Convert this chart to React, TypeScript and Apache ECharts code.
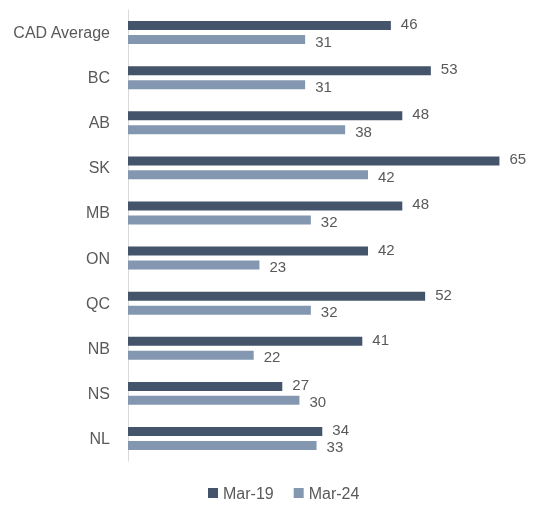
import React, { useEffect, useRef } from "react";
import * as echarts from "echarts";

const categories = ["CAD Average", "BC", "AB", "SK", "MB", "ON", "QC", "NB", "NS", "NL"];
const mar19 = [46, 53, 48, 65, 48, 42, 52, 41, 27, 34];
const mar24 = [31, 31, 38, 42, 32, 23, 32, 22, 30, 33];

const FONT = "'Liberation Sans', Arial, sans-serif";
const TEXT = "#595959";

export default function App() {
  const ref = useRef<HTMLDivElement>(null);
  useEffect(() => {
    const chart = echarts.init(ref.current!, null, { renderer: "svg" });
    const label = (dy: number) => ({
      show: true,
      position: "right",
      distance: 10,
      offset: [0, dy],
      color: TEXT,
      fontSize: 15,
      lineHeight: 13,
      fontFamily: FONT,
    });
    chart.setOption({
      animation: false,
      grid: { left: 128, top: 10, height: 451, right: 10 },
      legend: {
        bottom: 1,
        left: 203,
        itemWidth: 10,
        itemHeight: 10,
        itemGap: 20,
        icon: "rect",
        textStyle: { color: TEXT, fontSize: 16, fontFamily: FONT },
        data: ["Mar-19", "Mar-24"],
      },
      xAxis: {
        type: "value",
        min: 0,
        max: 70,
        show: false,
        splitLine: { show: false },
      },
      yAxis: {
        type: "category",
        data: categories,
        inverse: true,
        axisLine: { show: true, lineStyle: { color: "#d9d9d9", width: 1 } },
        axisTick: { show: false },
        axisLabel: { color: TEXT, fontSize: 16, fontFamily: FONT, margin: 18 },
      },
      series: [
        {
          name: "Mar-19",
          type: "bar",
          data: mar19,
          barWidth: 9,
          barGap: "55%",
          itemStyle: { color: "#44546A" },
          label: label(-2),
        },
        {
          name: "Mar-24",
          type: "bar",
          data: mar24,
          barWidth: 9,
          barGap: "55%",
          itemStyle: { color: "#8497B0" },
          label: label(1.5),
        },
      ],
    });
    return () => chart.dispose();
  }, []);
  return <div ref={ref} style={{ position: "fixed", left: 0, top: 0, width: 538, height: 507 }} />;
}
